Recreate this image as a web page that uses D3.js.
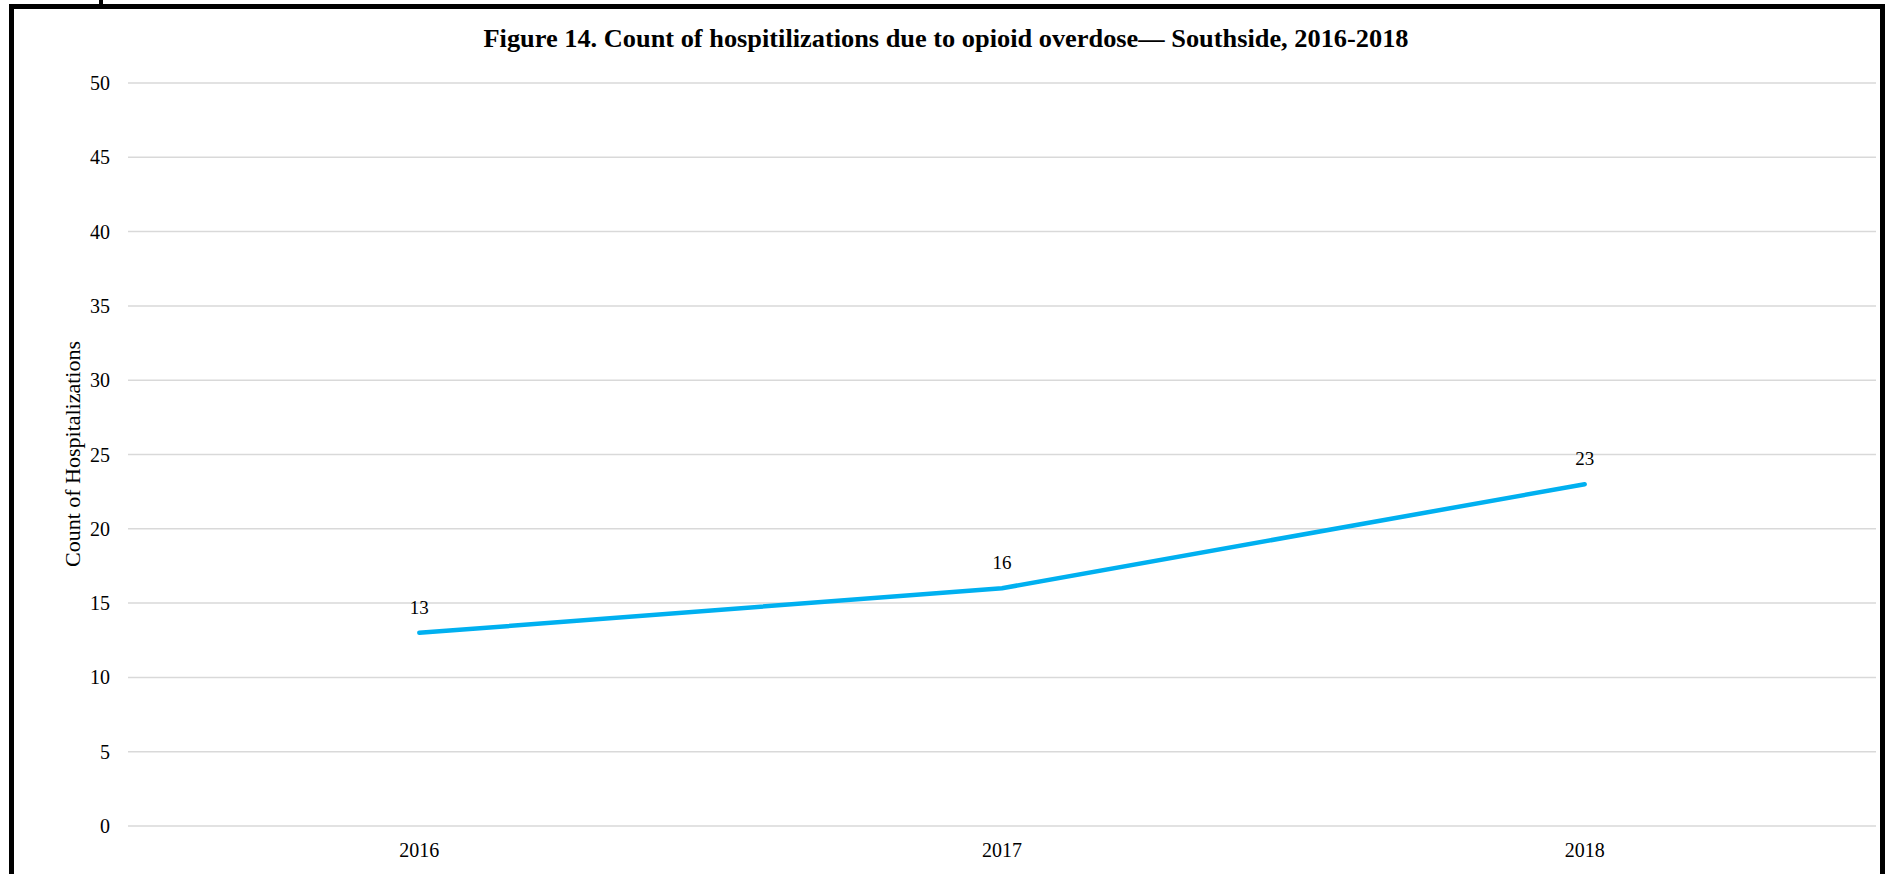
<!DOCTYPE html>
<html>
<head>
<meta charset="utf-8">
<script src="https://cdn.jsdelivr.net/npm/d3@7"></script>
<style>
  body { margin: 0; background: #fff; }
  svg text { font-family: "Liberation Serif", "Times New Roman", serif; fill: #000; }
</style>
</head>
<body>
<div id="chart"></div>
<script>
// chart data
var years = ["2016", "2017", "2018"];
var counts = [13, 16, 23];
var yTicks = [0, 5, 10, 15, 20, 25, 30, 35, 40, 45, 50];

var width = 1891, height = 874;
var margin = { top: 83, right: 15, bottom: 48, left: 128 };

var svg = d3.select("#chart")
    .append("svg")
    .attr("width", width)
    .attr("height", height);

// frame around the figure (runs past the bottom edge)
svg.append("rect")
    .attr("x", 11.5)
    .attr("y", 6.5)
    .attr("width", 1871)
    .attr("height", 900)
    .style("fill", "none")
    .style("stroke", "#000")
    .style("stroke-width", 5);
// small piece of the text above the figure
svg.append("rect")
    .attr("x", 99).attr("y", 0)
    .attr("width", 4).attr("height", 5)
    .style("fill", "#000");

var x = d3.scaleBand()
    .domain(years)
    .range([margin.left, width - margin.right]);

var y = d3.scaleLinear()
    .domain([0, 50])
    .range([826, margin.top]);

// gridlines
svg.append("g")
    .selectAll("line")
    .data(yTicks)
    .enter()
    .append("line")
    .attr("x1", margin.left)
    .attr("x2", 1876)
    .attr("y1", d => y(d))
    .attr("y2", d => y(d))
    .style("stroke", "#d9d9d9")
    .style("stroke-width", 1.5);

// y axis labels
svg.append("g")
    .selectAll("text")
    .data(yTicks)
    .enter()
    .append("text")
    .attr("x", 110)
    .attr("y", d => y(d))
    .attr("dy", "0.35em")
    .attr("text-anchor", "end")
    .style("font-size", "20px")
    .text(d => d);

// x axis labels
svg.append("g")
    .selectAll("text")
    .data(years)
    .enter()
    .append("text")
    .attr("x", d => x(d) + x.bandwidth() / 2)
    .attr("y", 857)
    .attr("text-anchor", "middle")
    .style("font-size", "20px")
    .text(d => d);

// y axis title
svg.append("text")
    .attr("transform", "translate(80, 454) rotate(-90)")
    .attr("text-anchor", "middle")
    .style("font-size", "22px")
    .text("Count of Hospitalizations");

// title
svg.append("text")
    .attr("x", 946)
    .attr("y", 47)
    .attr("text-anchor", "middle")
    .attr("textLength", 925)
    .attr("lengthAdjust", "spacingAndGlyphs")
    .style("font-size", "26px")
    .style("font-weight", "bold")
    .text("Figure 14. Count of hospitilizations due to opioid overdose\u2014 Southside, 2016-2018");

var line = d3.line()
    .x((d, i) => x(years[i]) + x.bandwidth() / 2)
    .y(d => y(d));

svg.append("path")
    .datum(counts)
    .attr("d", line)
    .style("fill", "none")
    .style("stroke", "#00b0f0")
    .style("stroke-width", 4.5)
    .style("stroke-linecap", "round")
    .style("stroke-linejoin", "round");

// data labels
svg.append("g")
    .selectAll("text")
    .data(counts)
    .enter()
    .append("text")
    .attr("x", (d, i) => x(years[i]) + x.bandwidth() / 2)
    .attr("y", d => y(d) - 19)
    .attr("text-anchor", "middle")
    .style("font-size", "19px")
    .text(d => d);
</script>
</body>
</html>
